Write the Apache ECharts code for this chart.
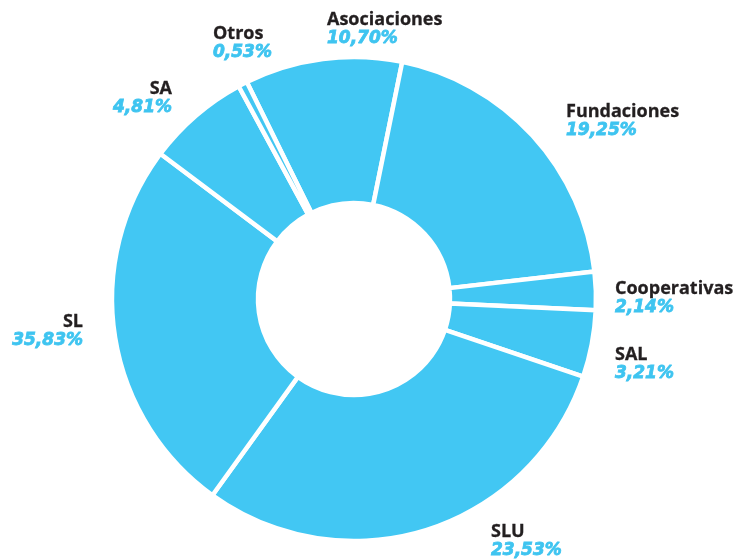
<!DOCTYPE html>
<html>
<head>
<meta charset="utf-8">
<style>
  html, body { margin: 0; padding: 0; background: #fff; }
  #chart { width: 737px; height: 559px; }
</style>
<script src="https://cdn.jsdelivr.net/npm/echarts@6/dist/echarts.min.js"></script>
</head>
<body>
<div id="chart"></div>
<script>
// categories in clockwise order, starting at Asociaciones
const categories = ['Asociaciones', 'Fundaciones', 'Cooperativas', 'SAL', 'SLU', 'SL', 'SA', 'Otros']
const sliceShares = [10.5, 20.0, 2.55, 4.45, 29.75, 25.3, 6.85, 0.6]
// percentages as printed next to each slice
const printedShares = ['10,70%', '19,25%', '2,14%', '3,21%', '23,53%', '35,83%', '4,81%', '0,53%']

// where each label block sits: [x, y, align]
const labelAnchors = [
  [327, 29, 'left'],
  [566, 121, 'left'],
  [615, 298, 'left'],
  [615, 364, 'left'],
  [491, 541, 'left'],
  [83, 331, 'right'],
  [172, 98, 'right'],
  [213, 43, 'left']
]

const chart = echarts.init(document.getElementById('chart'))

chart.setOption({
  backgroundColor: '#ffffff',
  animation: false,
  series: [
    {
      type: 'pie',
      center: [354, 299],
      radius: [96, 242],
      startAngle: 116.3,
      clockwise: true,
      avoidLabelOverlap: false,
      itemStyle: {
        color: '#42c7f3',
        borderColor: '#ffffff',
        borderWidth: 4.5
      },
      emphasis: { disabled: true },
      labelLine: { show: false },
      label: {
        show: true,
        position: 'outside',
        formatter: p => `{n|${p.name}}\n{p|${printedShares[p.dataIndex]}}`,
        rich: {
          n: {
            fontFamily: 'Open Sans',
            fontWeight: 700,
            fontSize: 18,
            lineHeight: 19,
            color: '#231f20',
            textBorderColor: '#231f20',
            textBorderWidth: 0.3
          },
          p: {
            fontFamily: 'DejaVu Sans',
            fontWeight: 'bold',
            fontStyle: 'italic',
            fontSize: 17,
            lineHeight: 19,
            color: '#3ec4f0',
            textBorderColor: '#3ec4f0',
            textBorderWidth: 0.8
          }
        }
      },
      labelLayout: p => {
        const a = labelAnchors[p.dataIndex]
        return { x: a[0], y: a[1], align: a[2], verticalAlign: 'middle' }
      },
      data: categories.map((name, i) => ({ name, value: sliceShares[i] }))
    }
  ]
})
</script>
</body>
</html>
